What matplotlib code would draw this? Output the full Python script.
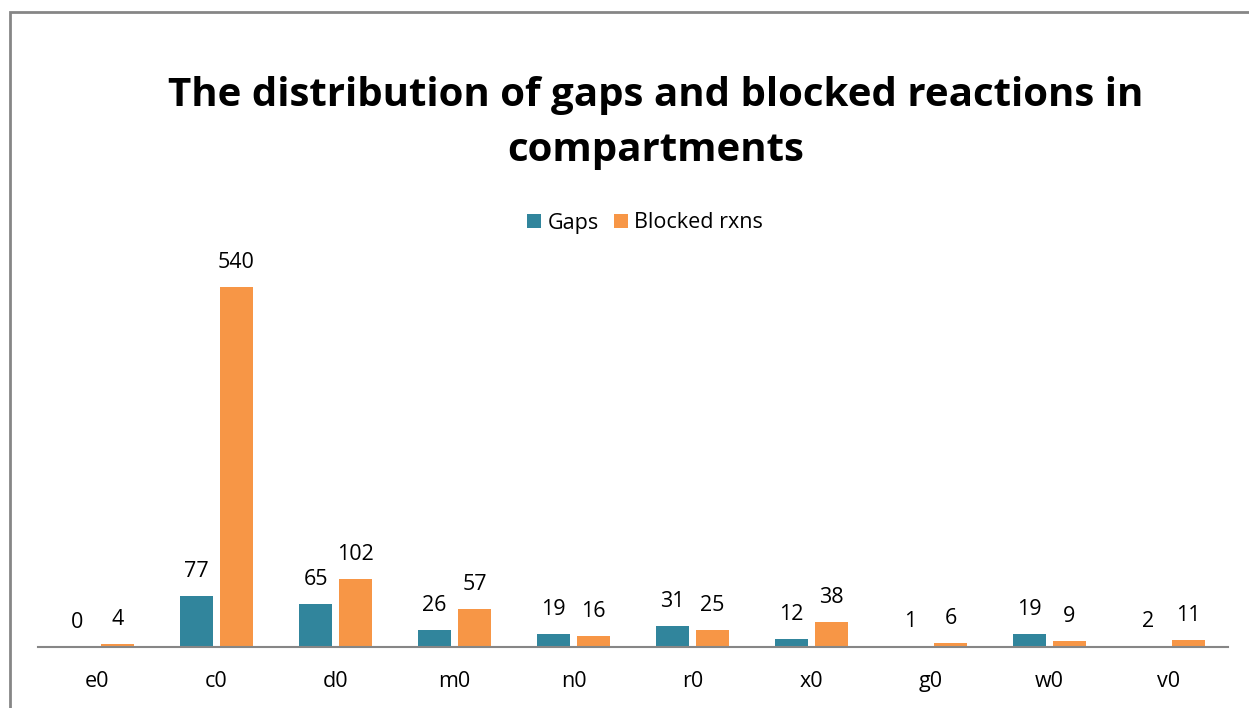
import matplotlib.pyplot as plt
import numpy as np
from matplotlib.patches import Rectangle

plt.rcParams['font.family'] = ['Open Sans', 'DejaVu Sans']

compartments = ["e0", "c0", "d0", "m0", "n0", "r0", "x0", "g0", "w0", "v0"]
gaps = [0, 77, 65, 26, 19, 31, 12, 1, 19, 2]
blocked = [4, 540, 102, 57, 16, 25, 38, 6, 9, 11]

teal = "#31859C"
orange = "#F79646"

fig = plt.figure(figsize=(12.49, 7.08), dpi=100)
W, H = 1249, 708

# chart area frame (runs off the right and bottom edges)
fig.patches.append(Rectangle((9.5 / W, -0.1), 1.2, 1 - 12 / H + 0.1,
                             transform=fig.transFigure, fill=False,
                             edgecolor="#868686", lw=2))

ax = fig.add_axes([38 / W, (H - 647) / H, (1228 - 38) / W, 400 / H])
x = np.arange(len(compartments))
w = 0.27
off = 0.168
b1 = ax.bar(x - off, gaps, w, color=teal, label="Gaps")
b2 = ax.bar(x + off, blocked, w, color=orange, label="Blocked rxns")

for bars, vals in ((b1, gaps), (b2, blocked)):
    for r, v in zip(bars, vals):
        ax.annotate(str(v), (r.get_x() + r.get_width() / 2, v),
                    xytext=(0, 10), textcoords="offset points",
                    ha="center", va="bottom", fontsize=15.5)

ax.set_xlim(-0.5, len(compartments) - 0.5)
ax.set_ylim(0, 600)
ax.set_xticks(x)
ax.set_xticklabels(compartments, fontsize=15.5)
ax.tick_params(axis="x", length=0, pad=17)
ax.set_yticks([])
for s in ("top", "right", "left"):
    ax.spines[s].set_visible(False)
ax.spines["bottom"].set_color("#868686")
ax.spines["bottom"].set_linewidth(1.5)
ax.patch.set_alpha(0)

fig.text(656 / W, 1 - 123 / H,
         "The distribution of gaps and blocked reactions in\ncompartments",
         ha="center", va="center", fontsize=29, fontweight="bold",
         linespacing=1.55)

fig.legend(handles=[b1, b2], loc="center", bbox_to_anchor=(645 / W, 1 - 223 / H),
           ncol=2, frameon=False, fontsize=15.5, handlelength=0.65,
           handleheight=0.65, handletextpad=0.3, columnspacing=0.7)

fig.savefig("out.png", dpi=100)
